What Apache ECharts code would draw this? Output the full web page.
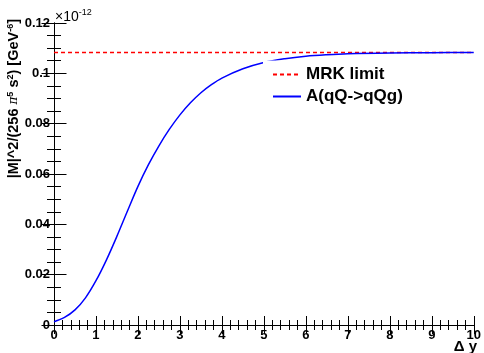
<!DOCTYPE html>
<html>
<head>
<meta charset="utf-8">
<script src="https://cdn.jsdelivr.net/npm/echarts@6/dist/echarts.min.js"></script>
<style>
  html, body { margin: 0; padding: 0; background: #fff; }
  #chart { width: 484px; height: 353px; }
</style>
</head>
<body>
<div id="chart"></div>
<script>
// Rapidity separation Δy
const dy = [0, 0.25, 0.5, 0.75, 1.0, 1.25, 1.5, 1.75, 2.0, 2.25, 2.5, 2.75, 3.0,
            3.25, 3.5, 3.75, 4.0, 4.5, 5.0, 5.5, 6.0, 6.5, 7.0, 8.0, 9.0, 10.0];
// |M|^2/(256 π^5 s^2) in units of 1e-12 GeV^-6, full amplitude A(qQ->qQg)
const ampValues = [0.0013, 0.0030, 0.0060, 0.0108, 0.0176, 0.0259, 0.0353, 0.0453, 0.0551,
                   0.0637, 0.0712, 0.0778, 0.0835, 0.0883, 0.0923, 0.0955, 0.0981, 0.1018,
                   0.1043, 0.1058, 0.1068, 0.1074, 0.1078, 0.1081, 0.1082, 0.1083];
// Multi-Regge kinematics limit (constant)
const mrkLimit = 0.1083;
const mrkX = [0, 10];

const xTicks = { min: 0, max: 10, interval: 1 };
const yTicks = { min: 0, max: 0.12, interval: 0.02 };

const FONT = 'Liberation Sans';

const ampSeries = dy.map((x, i) => [x, ampValues[i]]);
const mrkSeries = mrkX.map(x => [x, mrkLimit]);

const chart = echarts.init(document.getElementById('chart'), null, { renderer: 'canvas' });

const axisBase = {
  type: 'value',
  axisLine: { show: true, lineStyle: { color: '#000', width: 1 } },
  splitLine: { show: false },
  axisTick: { show: true, inside: true, lineStyle: { color: '#000', width: 1 } },
  minorTick: { show: true, lineStyle: { color: '#000', width: 1 } }
};

function xAxisDef(pos, showLabels) {
  return Object.assign({}, axisBase, {
    position: pos,
    min: xTicks.min, max: xTicks.max, interval: xTicks.interval,
    axisTick: Object.assign({}, axisBase.axisTick, { length: 9 }),
    minorTick: Object.assign({}, axisBase.minorTick, { splitNumber: 5, length: 5 }),
    axisLabel: {
      show: showLabels, color: '#000', fontFamily: FONT, fontWeight: 'bold',
      fontSize: 13, margin: 4
    }
  });
}

function yAxisDef(pos, showLabels) {
  return Object.assign({}, axisBase, {
    position: pos,
    min: yTicks.min, max: yTicks.max, interval: yTicks.interval,
    axisTick: Object.assign({}, axisBase.axisTick, { length: 12.5 }),
    minorTick: Object.assign({}, axisBase.minorTick, { splitNumber: 4, length: 7 }),
    axisLabel: {
      show: showLabels, color: '#000', fontFamily: FONT, fontWeight: 'bold',
      fontSize: 13, margin: 4,
      formatter: v => (v === 0 ? '0' : String(Math.round(v * 100) / 100))
    }
  });
}

const sup = { fontSize: 9, fontFamily: FONT, fontWeight: 'bold', verticalAlign: 'top', lineHeight: 15, color: '#000' };

chart.setOption({
  animation: false,
  backgroundColor: '#fff',
  grid: { left: 54, right: 9, top: 23, bottom: 28, containLabel: false },
  xAxis: [xAxisDef('bottom', true), xAxisDef('top', false)],
  yAxis: [yAxisDef('left', true), yAxisDef('right', false)],
  legend: {
    orient: 'vertical',
    left: 267, top: 61,
    itemWidth: 28, itemHeight: 17, itemGap: 5,
    itemStyle: { opacity: 0 },
    textStyle: { fontFamily: FONT, fontWeight: 'bold', fontSize: 17, color: '#000', lineHeight: 17 },
    data: ['MRK limit', 'A(qQ->qQg)']
  },
  graphic: {
    elements: [
      // blank legend pad
      { type: 'rect', left: 263, top: 60.5, z: 3, shape: { width: 140, height: 50 }, style: { fill: '#fff' } },
      // exponent of the y scale
      {
        type: 'text', left: 55, top: 8,
        style: {
          text: '{m|×10}{e|-12}',
          rich: {
            m: { fontFamily: FONT, fontSize: 14, lineHeight: 16, color: '#000', verticalAlign: 'bottom' },
            e: { fontFamily: FONT, fontSize: 9, lineHeight: 16, color: '#000', verticalAlign: 'top' }
          }
        }
      },
      // y axis title, rotated, aligned to the top end
      {
        type: 'text', x: 14, y: 19, rotation: Math.PI / 2,
        style: {
          text: '{t||M|^2/(256 }{p|π}{s|5}{t| s}{s|2}{t|) [GeV}{s|-6}{t|]}',
          align: 'right', verticalAlign: 'middle',
          rich: {
            t: { fontFamily: FONT, fontWeight: 'bold', fontSize: 14.5, lineHeight: 15, color: '#000' },
            p: { fontFamily: 'DejaVu Serif', fontStyle: 'italic', fontSize: 12, lineHeight: 15, color: '#000' },
            s: sup
          }
        }
      },
      // x axis title
      {
        type: 'text', right: 7, top: 339,
        style: { text: 'Δ y', fontFamily: FONT, fontWeight: 'bold', fontSize: 15, fill: '#000' }
      }
    ]
  },
  series: [
    {
      name: 'MRK limit', type: 'line', data: mrkSeries,
      showSymbol: false, symbol: 'none', z: 2,
      lineStyle: { color: '#ff0000', width: 1.5, type: [4, 3] },
      itemStyle: { color: '#ff0000' }
    },
    {
      name: 'A(qQ->qQg)', type: 'line', data: ampSeries,
      smooth: 0.35,
      showSymbol: false, symbol: 'none', z: 2,
      lineStyle: { color: '#0000ff', width: 1.5 },
      itemStyle: { color: '#0000ff' }
    }
  ]
});
</script>
</body>
</html>
